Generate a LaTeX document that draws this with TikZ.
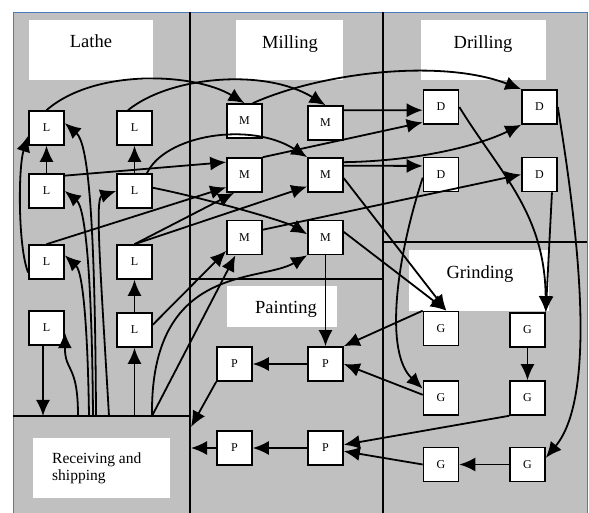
\documentclass[tikz,border=0pt]{standalone}
\usepackage{fontspec}
\setmainfont{Liberation Serif}
\usetikzlibrary{arrows.meta}
\definecolor{floor}{HTML}{C0C0C0}
\definecolor{rim}{HTML}{4A7EBB}

\begin{document}
\begin{tikzpicture}[x=1pt,y=1pt,>={Latex[length=16pt,width=14pt]},
    cell/.style={draw,fill=white,line width=1.6pt,minimum width=35pt,minimum height=34pt,inner sep=0pt,font=\fontsize{12}{14}\selectfont},
    zone/.style={anchor=base,inner sep=0pt,font=\fontsize{18.5}{22}\selectfont},
    wall/.style={line width=1.4pt},
    flow/.style={->,line width=1.8pt}]
    \useasboundingbox (0,0) rectangle (589,513);
    % floor begin
    \filldraw[fill=floor,draw=rim,line width=0.8pt] (13,0) rectangle (587,501);
    \draw[wall] (190,0) -- (190,501);
    \draw[wall] (383,0) -- (383,501);
    \draw[wall] (383,271) -- (587,271);
    \draw[wall] (190,234) -- (383,234);
    \draw[wall] (13,97) -- (190,97);
    \fill[white] (29,433) rectangle (153,493);
    \fill[white] (236,433) rectangle (343,493);
    \fill[white] (421,433) rectangle (546,493);
    \fill[white] (409,202) rectangle (549,263);
    \fill[white] (227,186) rectangle (337,227);
    \fill[white] (33,15) rectangle (170,75);
    \node[zone] (lathe) at (91,465) {Lathe};
    \node[zone] (milling) at (290,464) {Milling};
    \node[zone] (drilling) at (483,464) {Drilling};
    \node[zone] (grinding) at (480,234) {Grinding};
    \node[zone] (painting) at (286,199) {Painting};
    \node[anchor=west,inner sep=0pt,align=left,font=\fontsize{15.5}{17.3}\selectfont] (receiving) at (52,45) {Receiving and\\shipping};
    % floor end
    % machines begin
    \node[cell] (L1) at (46.5,385) {L};
    \node[cell] (L2) at (134.5,385) {L};
    \node[cell] (L3) at (46.5,322) {L};
    \node[cell] (L4) at (134.5,322) {L};
    \node[cell] (L5) at (46.5,251) {L};
    \node[cell] (L6) at (134.5,251) {L};
    \node[cell] (L7) at (46.5,185) {L};
    \node[cell] (L8) at (134.5,183) {L};
    \node[cell] (M1) at (244.5,392) {M};
    \node[cell] (M2) at (325.5,390) {M};
    \node[cell] (M3) at (244.5,338) {M};
    \node[cell] (M4) at (325.5,338) {M};
    \node[cell] (M5) at (244.5,275.5) {M};
    \node[cell] (M6) at (325.5,275.5) {M};
    \node[cell] (D1) at (441,406) {D};
    \node[cell] (D2) at (539.5,406) {D};
    \node[cell] (D3) at (441,338.5) {D};
    \node[cell] (D4) at (539.5,338.5) {D};
    \node[cell] (G1) at (441,184.5) {G};
    \node[cell] (G2) at (527.5,183) {G};
    \node[cell] (G3) at (441,115) {G};
    \node[cell] (G4) at (527.5,115) {G};
    \node[cell] (G5) at (441,48.5) {G};
    \node[cell] (G6) at (527.5,48.5) {G};
    \node[cell] (P1) at (234.5,149) {P};
    \node[cell] (P2) at (325.5,149) {P};
    \node[cell] (P3) at (234.5,65) {P};
    \node[cell] (P4) at (325.5,65) {P};
    % machines end
    \coordinate (rec1) at (43,97);
    \coordinate (rec2) at (78,97);
    \coordinate (rec3) at (89,97);
    \coordinate (rec4) at (93,97);
    \coordinate (rec5) at (96,97);
    \coordinate (rec6) at (109,97);
    \coordinate (rec7) at (134.5,97);
    \coordinate (rec8) at (152,97);
    \coordinate (rec9) at (191,86);
    \coordinate (rec10) at (191,65);
    % lathe
    \draw[flow] (L3) -- (L1);
    \draw[flow] (L4) -- (L2);
    \draw[flow] (L8) -- (L6);
    \draw[flow] (rec7) -- (L8);
    \draw[flow] (L7.south -| rec1) -- (rec1);
    \draw[flow] (rec2) .. controls (78,150) and (65,140) .. (L7.-13);
    \draw[flow] (rec3) .. controls (88,170) and (84,240) .. (L5.20);
    \draw[flow] (rec4) .. controls (92,230) and (86,305) .. (L3.east);
    \draw[flow] (rec5) .. controls (95,300) and (88,370) .. (L1.15);
    \draw[flow] (rec6) .. controls (100,250) and (95,315) .. (L4.west);
    \draw[flow] (L5.210) .. controls (18,265) and (18,345) .. (L1.203);
    % milling
    \draw[flow] (L1.north) .. controls (95,445) and (195,440) .. (M1.north);
    \draw[flow] (L2.110) .. controls (170,437) and (265,445) .. (M2.north);
    \draw[flow] (L3.40) -- (M3.145);
    \draw[flow] (L4.55) .. controls (165,378) and (250,392) .. (M4.north west);
    \draw[flow] (L4.10) .. controls (200,316) and (285,292) .. (M6.170);
    \draw[flow] (L5.north) -- (M3.214);
    \draw[flow] (L6.north) -- (M3.240);
    \draw[flow] (L6.north) -- (M4.212);
    \draw[flow] (L8.16) -- (M5.216);
    \draw[flow] (rec8) -- (M5.243);
    \draw[flow] (rec8) .. controls (150,250) and (260,230) .. (M6.south west);
    % drilling
    \draw[flow] (M1.65) .. controls (320,440) and (440,455) .. (D2.north west);
    \draw[flow] (M2.35) -- (D1.190);
    \draw[flow] (M3.north east) -- (D1.220);
    \draw[flow] (M4.27) -- (D3.155);
    \draw[flow] (M4.35) .. controls (420,352) and (480,368) .. (D2.south west);
    \draw[flow] (M5.23) -- (D4.west);
    % grinding
    \draw[flow] (D1.east) .. controls (500,340) and (545,300) .. (G2.north east);
    \draw[flow] (D4.-55) -- (G2.north east);
    \draw[flow] (D2.east) .. controls (575,300) and (600,120) .. (G6.20);
    \draw[flow] (D3.190) .. controls (395,250) and (385,160) .. (G3.153);
    \draw[flow] (M4.-10) -- (G1.73);
    \draw[flow] (M6.17) -- (G1.73);
    \draw[flow] (G2) -- (G4);
    \draw[flow] (G6) -- (G5);
    % painting
    \draw[flow] (M6) -- (P2);
    \draw[flow] (G1.north west) -- (P2.north east);
    \draw[flow] (G3.170) -- (P2.east);
    \draw[flow] (G4.south west) -- (P4.10);
    \draw[flow] (G5.west) -- (P4.-10);
    \draw[flow] (P2) -- (P1);
    \draw[flow] (P4) -- (P3);
    \draw[flow] (P1.south west) -- (rec9);
    \draw[flow] (P3) -- (rec10);
\end{tikzpicture}
\end{document}
